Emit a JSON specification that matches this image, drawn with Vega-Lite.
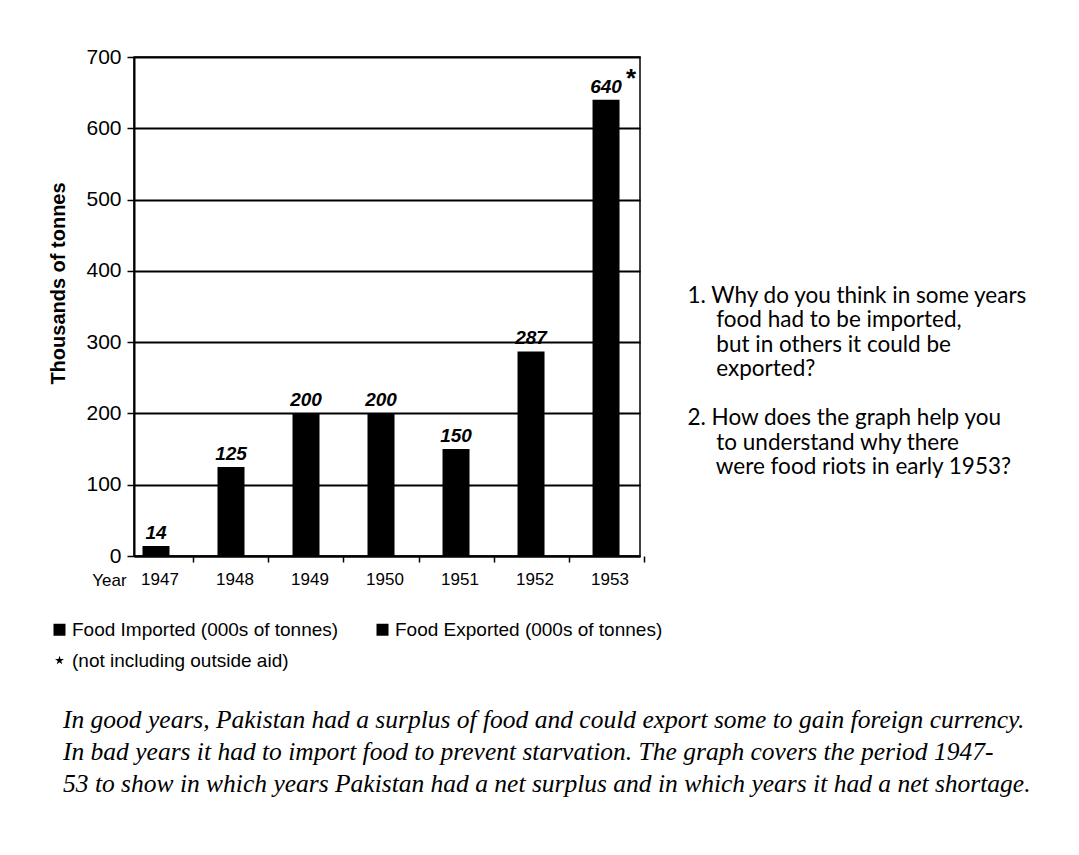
{
  "$schema": "https://vega.github.io/schema/vega-lite/v6.json",
  "width": 506,
  "height": 499,
  "autosize": "none",
  "padding": {"left": 134, "top": 57, "right": 439, "bottom": 299},
  "background": "white",
  "config": {"view": {"stroke": "black", "strokeWidth": 1.5}, "font": "Liberation Sans"},
  "data": {"values": [
    {"year": "1947", "value": 14, "type": "Food Exported (000s of tonnes)"},
    {"year": "1948", "value": 125, "type": "Food Exported (000s of tonnes)"},
    {"year": "1949", "value": 200, "type": "Food Exported (000s of tonnes)"},
    {"year": "1950", "value": 200, "type": "Food Exported (000s of tonnes)"},
    {"year": "1951", "value": 150, "type": "Food Exported (000s of tonnes)"},
    {"year": "1952", "value": 287, "type": "Food Exported (000s of tonnes)"},
    {"year": "1953", "value": 640, "type": "Food Exported (000s of tonnes)"}
  ]},
  "title": {
    "text": [
      "In good years, Pakistan had a surplus of food and could export some to gain foreign currency.",
      "In bad years it had to import food to prevent starvation. The graph covers the period 1947-",
      "53 to show in which years Pakistan had a net surplus and in which years it had a net shortage."
    ],
    "orient": "bottom",
    "anchor": "start",
    "frame": "group",
    "align": "left",
    "baseline": "top",
    "font": "Liberation Serif",
    "fontStyle": "italic",
    "fontWeight": "normal",
    "fontSize": 25.5,
    "lineHeight": 32,
    "color": "black",
    "limit": 1200,
    "dx": -71,
    "offset": 37
  },
  "encoding": {
    "x": {
      "field": "year",
      "type": "ordinal",
      "scale": {"paddingInner": 0.64, "paddingOuter": 0.193, "align": 0.293},
      "axis": {
        "title": "Year",
        "labelAngle": 0,
        "tickOffset": 37.5,
        "labelOffset": -34,
        "grid": false,
        "domainColor": "black",
        "domainWidth": 2,
        "tickColor": "black",
        "tickWidth": 1.5,
        "tickSize": 6,
        "labelPadding": 9,
        "labelFontSize": 17,
        "labelColor": "black",
        "labelFont": "Liberation Sans",
        "titleX": -25,
        "titleY": 29,
        "titleAlign": "center",
        "titleBaseline": "alphabetic",
        "titleFontWeight": "normal",
        "titleFontSize": 17,
        "titleFont": "Liberation Sans",
        "titleColor": "black"
      }
    }
  },
  "layer": [
    {
      "encoding": {
        "y": {
          "field": "value",
          "type": "quantitative",
          "scale": {"domain": [0, 700], "nice": false},
          "axis": {
            "values": [0, 100, 200, 300, 400, 500, 600, 700],
            "title": "Thousands of tonnes",
            "titleFont": "Liberation Sans",
            "titleFontSize": 20,
            "titleFontWeight": "bold",
            "titleColor": "black",
            "titleX": -76,
            "titleY": 226,
            "titleAngle": 270,
            "titleAlign": "center",
            "titleBaseline": "middle",
            "grid": true,
            "gridColor": "black",
            "gridWidth": 2,
            "gridOpacity": 1,
            "domainColor": "black",
            "domainWidth": 2,
            "tickColor": "black",
            "tickSize": 7,
            "tickWidth": 1.5,
            "labelFont": "Liberation Sans",
            "labelFontSize": 21,
            "labelColor": "black",
            "labelPadding": 6
          }
        }
      },
      "layer": [
        {
          "mark": {"type": "bar", "color": "black"},
          "encoding": {
            "color": {
              "field": "type",
              "type": "nominal",
              "scale": {
                "domain": ["Food Imported (000s of tonnes)", "Food Exported (000s of tonnes)", "(not including outside aid)"],
                "range": ["black", "black", "black"]
              },
              "legend": {
                "orient": "none",
                "legendX": -84,
                "legendY": 563,
                "direction": "horizontal",
                "columns": 2,
                "title": null,
                "symbolType": "square",
                "symbolSize": 144,
                "symbolFillColor": "black",
                "symbolStrokeWidth": 0,
                "labelFont": "Liberation Sans",
                "labelFontSize": 19,
                "labelColor": "black",
                "labelLimit": 500,
                "labelOffset": 3,
                "columnPadding": 34,
                "rowPadding": 11,
                "padding": 0,
                "encoding": {
                  "symbols": {
                    "shape": {"value": {"expr": "datum.value === '(not including outside aid)' ? 'M0,-1L0.2245,-0.309L0.951,-0.309L0.363,0.118L0.588,0.809L0,0.382L-0.588,0.809L-0.363,0.118L-0.951,-0.309L-0.2245,-0.309Z' : 'square'"}},
                    "size": {"value": {"expr": "datum.value === '(not including outside aid)' ? 90 : 144"}}
                  }
                }
              }
            }
          }
        },
        {
          "mark": {"type": "text", "font": "Liberation Sans", "fontWeight": "bold", "fontStyle": "italic", "fontSize": 19, "dy": -7, "baseline": "alphabetic", "color": "black"},
          "encoding": {"text": {"field": "value", "type": "quantitative"}}
        }
      ]
    },
    {
      "transform": [{"filter": "datum.year == '1953'"}],
      "mark": {"type": "text", "text": "*", "font": "Liberation Sans", "fontWeight": "bold", "fontSize": 26, "dx": 25, "dy": -13, "baseline": "alphabetic", "color": "black"},
      "encoding": {
        "y": {
          "field": "value",
          "type": "quantitative",
          "scale": {"domain": [0, 700], "nice": false},
          "axis": {
            "orient": "right",
            "labels": false,
            "ticks": false,
            "domain": false,
            "grid": false,
            "title": [
              "1. Why do you think in some years",
              "\u200b\u00a0\u00a0\u00a0\u00a0\u00a0food had to be imported,",
              "\u200b\u00a0\u00a0\u00a0\u00a0\u00a0but in others it could be",
              "\u200b\u00a0\u00a0\u00a0\u00a0\u00a0exported?",
              "\u200b\u00a0",
              "2. How does the graph help you",
              "\u200b\u00a0\u00a0\u00a0\u00a0\u00a0to understand why there",
              "\u200b\u00a0\u00a0\u00a0\u00a0\u00a0were food riots in early 1953?"
            ],
            "titleAngle": 0,
            "titleAlign": "left",
            "titleBaseline": "alphabetic",
            "titleX": 47,
            "titleY": 245,
            "titleFont": "Lato",
            "titleFontSize": 22.5,
            "titleFontWeight": "normal",
            "titleColor": "black",
            "titleLineHeight": 24.5
          }
        }
      }
    }
  ],
  "resolve": {"scale": {"y": "independent"}}
}
